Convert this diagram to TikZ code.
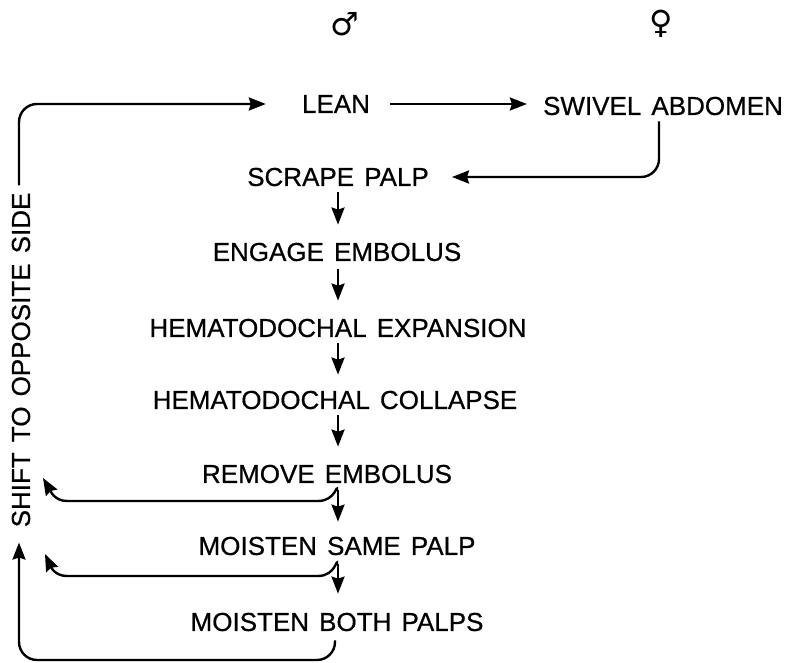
\documentclass[tikz,border=0pt]{standalone}
\usepackage{fontspec}
\setmainfont[WordSpace=1.4,FakeBold=0.6]{Liberation Sans}
\newfontfamily\symbfont{DejaVu Sans}
\usetikzlibrary{arrows.meta}
\tikzset{
  act/.style={inner sep=0pt,font=\fontsize{26}{30}\selectfont},
  sex/.style={inner sep=0pt,font=\fontsize{32}{36}\selectfont\symbfont},
  flow/.style={line width=2.4pt,-{Stealth[length=17pt,width=13pt,inset=2pt]},rounded corners=18pt},
}
\begin{document}
\begin{tikzpicture}[x=1pt,y=-1pt]
\useasboundingbox (0,0) rectangle (789,663);
\node[sex] (male) at (345,24) {♂};
\node[sex] (female) at (661,24) {♀};
\node[act] (lean) at (336,104) {LEAN};
\node[act] (swivel) at (663,106) {SWIVEL ABDOMEN};
\node[act] (scrape) at (338,177) {SCRAPE PALP};
\node[act] (engage) at (337,252) {ENGAGE EMBOLUS};
\node[act] (expansion) at (338,328) {HEMATODOCHAL EXPANSION};
\node[act] (collapse) at (335,400) {HEMATODOCHAL COLLAPSE};
\node[act] (remove) at (327,474) {REMOVE EMBOLUS};
\node[act] (same) at (337,546) {MOISTEN SAME PALP};
\node[act] (both) at (337,622) {MOISTEN BOTH PALPS};
\node[act,rotate=90] (shift) at (21,360) {SHIFT TO OPPOSITE SIDE};
\coordinate (into1) at (43,478);
\coordinate (into2) at (45,554);
\coordinate (corner) at (19,660);
% around the left side
\draw[flow] ([xshift=-2pt,yshift=7pt]shift.east) |- ([xshift=-36pt]lean.west);
\draw[flow] ([xshift=-2pt,yshift=-9pt]both.south) -- ([xshift=-2pt]both.south |- corner) -- (corner) -- ([xshift=-2pt,yshift=-15pt]shift.west);
% top row
\draw[flow] ([xshift=20pt]lean.east) -- ([xshift=-16pt]swivel.west |- lean.east);
\draw[flow] ([xshift=-4pt,yshift=-6pt]swivel.south) |- ([xshift=23pt]scrape.east);
% the column
\draw[flow] ([yshift=-6pt]scrape.south) -- ([yshift=18pt]scrape.south |- engage.north);
\draw[flow] ([xshift=1pt,yshift=-8pt]engage.south) -- ([xshift=1pt,yshift=18pt]engage.south |- expansion.north);
\draw[flow] ([yshift=-6pt]expansion.south) -- ([yshift=16pt]expansion.south |- collapse.north);
\draw[flow] ([xshift=3pt,yshift=-6pt]collapse.south) -- ([xshift=3pt,yshift=18pt]collapse.south |- remove.north);
\draw[flow] ([xshift=11pt,yshift=-7pt]remove.south) -- ([xshift=11pt,yshift=15pt]remove.south |- same.north);
\draw[flow] ([xshift=1pt,yshift=-9pt]same.south) -- ([xshift=1pt,yshift=19pt]same.south |- both.north);
% returns
\draw[flow,rounded corners=0pt] ([xshift=10pt,yshift=-7pt]remove.south) .. controls +(0,-8) and (336,501) .. (318,501) -- (67,501) .. controls (54,501) and (50,490) .. (into1);
\draw[flow,rounded corners=0pt] ([xshift=0pt,yshift=-9pt]same.south) .. controls +(0,-8) and (336,576) .. (318,576) -- (67,576) .. controls (55,576) and (51,567) .. (into2);
\end{tikzpicture}
\end{document}
